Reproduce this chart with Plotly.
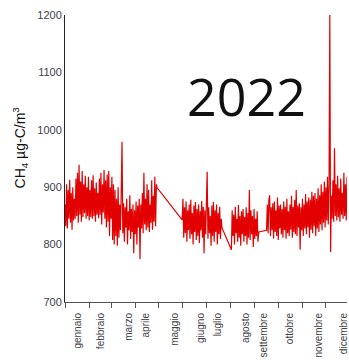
import pandas as pd
import plotly.graph_objects as go

# ---- data ----
seg1_start = "2022-01-01"
seg1 = [870, 832, 905, 828, 895, 845, 913, 838, 890, 826, 900, 842, 880,
        845, 915, 850, 925, 838, 939, 852, 910, 840, 928, 848, 905, 855, 920, 845, 900, 850, 918, 842, 895,
        848, 912, 845, 921, 850, 898, 840, 908, 852, 890, 846, 915,
        852, 925, 835, 905, 856, 930, 845, 912, 830, 922, 840, 928, 815, 900, 845, 918, 808, 905, 800,
        895, 815, 880, 798, 900, 812, 870, 825, 890,
        979,
        820, 872, 805, 865, 830, 880, 800, 858, 825, 886, 810, 862, 822, 870, 785, 860, 818, 875, 800, 868, 830, 880,
        775, 870, 828, 890, 820, 925, 835, 880, 825, 905, 830, 895, 822, 870, 838, 912, 826, 885, 840, 918, 832, 905, 899]

seg2_start = "2022-05-31"
seg2 = [843, 880, 812, 865, 820, 875, 805, 860, 825, 870,
        810, 878, 818, 855, 800, 868, 822, 874, 808, 862,
        815, 870, 803, 858, 825, 876, 812, 866, 785, 860,
        818, 872, 927, 810, 865, 820, 850, 798, 868, 815,
        874, 805, 860, 822, 870, 800, 855, 818, 866, 810,
        845, 829]

seg3_start = "2022-08-02"
seg3 = [791, 860, 815, 852, 800, 866, 820, 845, 805, 869,
        812, 850, 798, 858, 818, 862, 805, 848, 815, 865,
        800, 855, 812, 895, 808, 860, 818, 850, 796, 862,
        810, 845, 815, 858, 805, 822]

seg4_start = "2022-09-16"
seg4 = [825, 870, 820, 878, 886, 815, 865, 825, 872, 810,
        875, 822, 860, 815, 882, 808, 868, 828, 870, 818,
        862, 812, 875, 825, 866, 810, 880, 820, 858, 815,
        870, 826, 885, 812, 866, 822, 878, 818, 895, 815,
        868, 830, 872, 791, 865, 825, 880, 815, 870, 828,
        888, 818, 875, 830, 882, 812, 878, 826, 892, 820,
        885, 832, 890, 815, 880, 828, 898, 822, 886, 835,
        905, 825, 892, 838, 910, 830, 900, 842, 918, 835,
        905, 1200, 787, 885, 845, 912, 840, 968, 850, 905,
        842, 920, 848, 898, 840, 915, 852, 890, 845, 925,
        850, 905, 842, 918, 855, 895, 870]

month_ticks = ["2022-01-01", "2022-02-01", "2022-03-01", "2022-04-01", "2022-05-01", "2022-06-01",
               "2022-07-01", "2022-08-01", "2022-09-01", "2022-10-01", "2022-11-01", "2022-12-01"]
label_names = ["gennaio", "febbraio", "marzo", "aprile", "maggio", "giugno",
               "luglio", "agosto", "settembre", "ottobre", "novembre", "dicembre"]
label_dates = ["2022-01-17", "2022-02-16", "2022-03-24", "2022-04-14", "2022-05-21", "2022-06-24",
               "2022-07-16", "2022-08-21", "2022-09-13", "2022-10-16", "2022-11-22", "2022-12-24"]
y_ticks = [700, 800, 900, 1000, 1100, 1200]

# ---- build series ----
xs, ys = [], []
for start, vals in [(seg1_start, seg1), (seg2_start, seg2), (seg3_start, seg3), (seg4_start, seg4)]:
    dates = pd.date_range(start, periods=len(vals), freq="D")
    xs.extend(dates)
    ys.extend(vals)

fig = go.Figure()
fig.add_trace(go.Scatter(x=xs, y=ys, mode="lines",
                         line=dict(color="rgb(226,0,0)", width=1.2),
                         showlegend=False, hoverinfo="skip"))

fig.update_layout(
    width=349, height=360,
    margin=dict(l=65, r=0, t=15, b=58),
    paper_bgcolor="white", plot_bgcolor="white",
    font=dict(family="Liberation Sans, Arial", size=11, color="#404048"),
    xaxis=dict(
        range=["2022-01-01", "2022-12-28"],
        tickmode="array", tickvals=label_dates, ticktext=label_names,
        tickangle=-90, ticks="", showgrid=False, zeroline=False,
        showline=True, linecolor="#555555", linewidth=1,
        tickfont=dict(size=10, color="#404048"),
        ticklabeloverflow="allow", ticklabelstandoff=6,
        minor=dict(tickmode="array", tickvals=month_ticks, ticks="outside",
                   ticklen=5, tickcolor="#555555", showgrid=False),
    ),
    yaxis=dict(
        range=[700, 1200], tickmode="array", tickvals=y_ticks,
        ticks="", showgrid=False, zeroline=False,
        showline=True, linecolor="#222222", linewidth=1,
        tickfont=dict(size=11, color="#404048"),
    ),
    annotations=[
        dict(text="CH<sub>4</sub> µg-C/m<sup>3</sup>", xref="paper", yref="paper",
             x=-0.158, y=0.54, xanchor="center", yanchor="middle",
             textangle=-90, showarrow=False,
             font=dict(family="Liberation Sans, Arial", size=14, color="#111111")),
        dict(text="2022", xref="paper", yref="paper", x=0.644, y=0.72,
             xanchor="center", yanchor="middle",
             showarrow=False, font=dict(family="Open Sans", size=52, color="#111111")),
    ],
)

fig.write_html("out.html")
